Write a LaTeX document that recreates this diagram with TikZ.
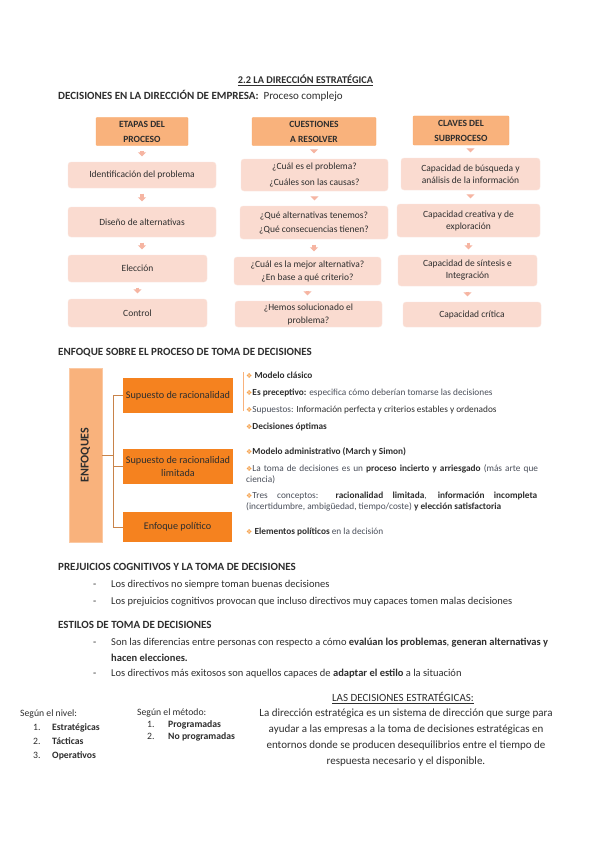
\documentclass[tikz,border=0pt]{standalone}
\usepackage{fontspec}
\setmainfont{Carlito}
\newfontfamily\simbolos{DejaVu Sans}
\usepackage{graphicx}
\usepackage{tikz}
\usetikzlibrary{arrows.meta,positioning}
\definecolor{naranja}{HTML}{F5821F}
\definecolor{naranjaclaro}{HTML}{F9B27C}
\definecolor{melocoton}{HTML}{FADBD0}
\definecolor{bordecaja}{HTML}{FCE7E0}
\definecolor{flechacol}{HTML}{F6B5A2}
\definecolor{ramacol}{HTML}{C8834A}
\definecolor{texto}{HTML}{2E2E2E}
\definecolor{gristxt}{HTML}{4A4F5A}
\definecolor{vineta}{HTML}{F5A04A}
\tikzset{
  caja/.style={draw=bordecaja,fill=melocoton,rounded corners=3pt,align=center,
    text=texto,inner sep=1pt,font=\fontsize{9.5}{12}\selectfont},
  cabecera/.style={draw=naranjaclaro!85!orange,fill=naranjaclaro,rounded corners=1pt,
    align=center,text=texto,inner sep=1pt,font=\fontsize{9.5}{15}\selectfont\bfseries},
  flecha/.style={-{Triangle[width=8pt,length=4pt]},line width=3.5pt,draw=flechacol,
    shorten <=5.5pt,shorten >=5.5pt},
  enfoque/.style={draw=naranjaclaro!70!white,fill=naranjaclaro,text=texto,
    font=\fontsize{12}{14}\selectfont\bfseries},
  supuesto/.style={fill=naranja,text=texto,align=center,inner sep=1pt,
    font=\fontsize{10.2}{13}\selectfont},
  rama/.style={draw=ramacol,line width=0.6pt},
  vinetas/.style={anchor=west,text=gristxt,inner sep=0pt,font=\fontsize{9.3}{11}\selectfont},
  titulo/.style={anchor=west,inner sep=0pt,text=texto,font=\fontsize{11}{13}\selectfont\bfseries},
  cuerpo/.style={anchor=west,inner sep=0pt,text=texto,align=left,font=\fontsize{10.5}{16}\selectfont},
}
\newcommand{\vin}{{\simbolos\color{vineta}\fontsize{7}{7}\selectfont ❖}}

\begin{document}
\begin{tikzpicture}[x=1pt,y=-1pt]
  \fill[white] (0,0) rectangle (600,848);
  \useasboundingbox (0,0) rectangle (600,848);

  % encabezado
  \node[titulo,anchor=center,font=\fontsize{10.3}{13}\selectfont\bfseries] (tit) at (305.5,80) {\underline{2.2 LA DIRECCIÓN ESTRATÉGICA}};
  \node[titulo] (dec) at (58,96) {DECISIONES EN LA DIRECCIÓN DE EMPRESA:\ \ \mdseries Proceso complejo};

  % etapas del proceso
  \node[cabecera,minimum width=92,minimum height=28] (cab1) at (142,131.5) {ETAPAS DEL\\PROCESO};
  \node[caja,minimum width=148,minimum height=26] (e1) at (142,175) {Identificación del problema};
  \node[caja,minimum width=148,minimum height=30] (e2) at (142,222) {Diseño de alternativas};
  \node[caja,minimum width=139,minimum height=27] (e3) at (137.5,268.5) {Elección};
  \node[caja,minimum width=139,minimum height=28] (e4) at (137.5,313) {Control};

  % cuestiones
  \node[cabecera,minimum width=124,minimum height=28] (cab2) at (314,131.5) {CUESTIONES\\A RESOLVER};
  \node[caja,minimum width=147,minimum height=32] (c1) at (314.5,175) {¿Cuál es el problema?\\[4pt]¿Cuáles son las causas?};
  \node[caja,minimum width=148,minimum height=33] (c2) at (314,222.5) {¿Qué alternativas tenemos?\\[2pt]¿Qué consecuencias tienen?};
  \node[caja,minimum width=147,minimum height=28] (c3) at (307.5,271) {¿Cuál es la mejor alternativa?\\[1pt]¿En base a qué criterio?};
  \node[caja,minimum width=147,minimum height=26] (c4) at (308.5,314) {¿Hemos solucionado el\\[1pt]problema?};

  % claves
  \node[cabecera,minimum width=96,minimum height=29] (cab3) at (461,130.5) {CLAVES DEL\\SUBPROCESO};
  \node[caja,minimum width=139,minimum height=32] (k1) at (470.5,174) {Capacidad de búsqueda y\\análisis de la información};
  \node[caja,minimum width=143,minimum height=33] (k2) at (468.5,220.5) {Capacidad creativa y de\\exploración};
  \node[caja,minimum width=139,minimum height=31] (k3) at (467.5,270.5) {Capacidad de síntesis e\\Integración};
  \node[caja,minimum width=138,minimum height=25] (k4) at (472,314.5) {Capacidad crítica};

  \foreach \a/\b in {cab1/e1,e1/e2,e2/e3,e3/e4,cab2/c1,c1/c2,c2/c3,c3/c4,k1/k2,k2/k3,k3/k4}
    \draw[flecha] (\a.south) -- (\a.south |- \b.north);
  \draw[flecha] (cab3.south -| k1) -- (k1.north);

  % enfoques
  \node[titulo] (enfq) at (58,353) {ENFOQUE SOBRE EL PROCESO DE TOMA DE DECISIONES};
  \node[enfoque,minimum width=33,minimum height=174] (enf) at (85.5,455) {\rotatebox{90}{ENFOQUES}};
  \node[supuesto,minimum width=110,minimum height=35] (s1) at (178,395.5) {Supuesto de racionalidad};
  \node[supuesto,minimum width=110,minimum height=35] (s2) at (178,466.5) {Supuesto de racionalidad\\limitada};
  \node[supuesto,minimum width=109,minimum height=30] (s3) at (177.5,527) {Enfoque político};
  \coordinate (eje) at (113,455);
  \draw[rama] (enf.east) -- (eje);
  \draw[rama] (eje |- s1) -- (eje |- s3);
  \foreach \s in {s1,s2,s3}
    \draw[rama] (eje |- \s) -- (\s.west);
  \draw[naranjaclaro,line width=0.8pt] (243,372) -- (243,411);

  \node[vinetas] (b1) at (246,375) {\vin\ \textbf{\color{texto}Modelo clásico}};
  \node[vinetas] (b2) at (246,392.5) {\vin\textbf{\color{texto}Es preceptivo:} especifica cómo deberían tomarse las decisiones};
  \node[vinetas] (b3) at (246,410) {\vin Supuestos: {\color{texto}Información perfecta y criterios estables y ordenados}};
  \node[vinetas] (b4) at (246,427) {\vin\textbf{\color{texto}Decisiones óptimas}};
  \node[vinetas] (b5) at (246,452) {\vin\textbf{\color{texto}Modelo administrativo (March y Simon)}};
  \node[vinetas,anchor=north west,text width=296,align=left] (b6) at (246,464)
    {\hangindent=6pt\hangafter=1\vin La toma de decisiones es un \textbf{\color{texto}proceso incierto y arriesgado} (más arte que\\ciencia)};
  \node[vinetas,anchor=north west,text width=291,align=justify] (b7) at (246,492)
    {\hangindent=6pt\hangafter=1\vin Tres conceptos: \textbf{\color{texto}racionalidad limitada}, \textbf{\color{texto}información incompleta}\linebreak
     (incertidumbre, ambigüedad, tiempo/coste) \textbf{\color{texto}y elección satisfactoria}};
  \node[vinetas] (b8) at (246,532) {\vin\ \textbf{\color{texto}Elementos políticos} en la decisión};

  % prejuicios
  \node[titulo] (prej) at (58,567) {PREJUICIOS COGNITIVOS Y LA TOMA DE DECISIONES};
  \node[cuerpo] (p1) at (93,585) {\makebox[18pt][l]{-}Los directivos no siempre toman buenas decisiones};
  \node[cuerpo] (p2) at (93,602) {\makebox[18pt][l]{-}Los prejuicios cognitivos provocan que incluso directivos muy capaces tomen malas decisiones};

  % estilos
  \node[titulo] (est) at (58,625) {ESTILOS DE TOMA DE DECISIONES};
  \node[cuerpo] (d1) at (93,650) {\makebox[18pt][l]{-}Son las diferencias entre personas con respecto a cómo \textbf{evalúan los problemas}, \textbf{generan alternativas y}\\
    \hspace*{18pt}\textbf{hacen elecciones.}};
  \node[cuerpo] (d2) at (93,674) {\makebox[18pt][l]{-}Los directivos más exitosos son aquellos capaces de \textbf{adaptar el estilo} a la situación};

  % clasificacion
  \node[cuerpo,font=\fontsize{9.7}{13.7}\selectfont,anchor=north west] (niv) at (20,710)
    {Según el nivel:\\
     \hspace*{13pt}\makebox[19pt][l]{1.}\textbf{Estratégicas}\\
     \hspace*{13pt}\makebox[19pt][l]{2.}\textbf{Tácticas}\\
     \hspace*{13pt}\makebox[19pt][l]{3.}\textbf{Operativos}};
  \node[cuerpo,font=\fontsize{9.7}{12}\selectfont,anchor=north west] (met) at (137,709)
    {Según el método:\\
     \hspace*{10pt}\makebox[21pt][l]{1.}\textbf{Programadas}\\
     \hspace*{10pt}\makebox[21pt][l]{2.}\textbf{No programadas}};
  \node[cuerpo,anchor=center,font=\fontsize{11}{16}\selectfont] (lde) at (403,698) {\underline{LAS DECISIONES ESTRATÉGICAS:}};
  \node[cuerpo,anchor=center,align=center,font=\fontsize{11}{16}\selectfont] (par) at (406,738)
    {La dirección estratégica es un sistema de dirección que surge para\\
     ayudar a las empresas a la toma de decisiones estratégicas en\\
     entornos donde se producen desequilibrios entre el tiempo de\\
     respuesta necesario y el disponible.};
\end{tikzpicture}
\end{document}
